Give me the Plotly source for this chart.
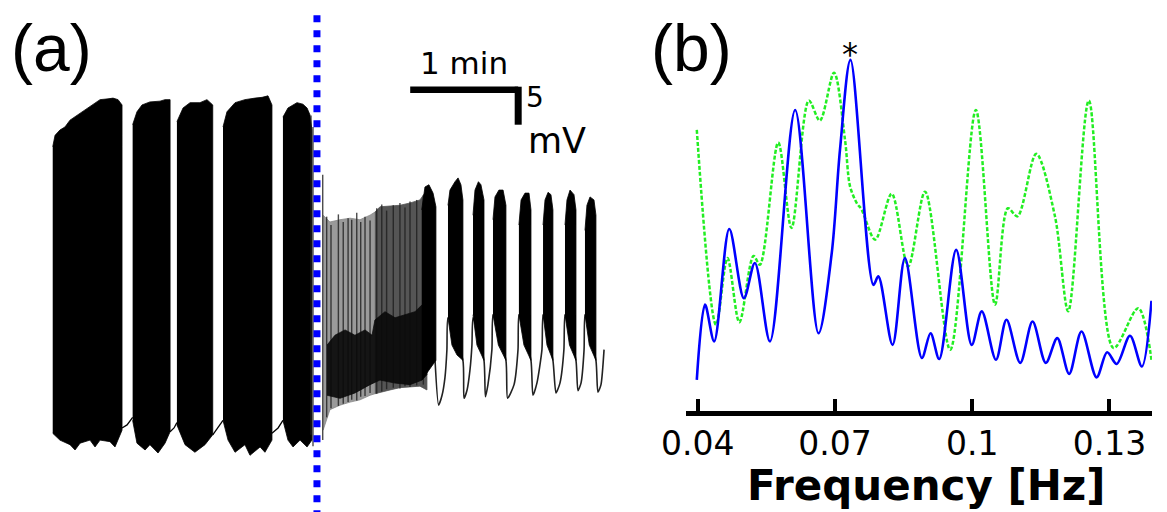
import plotly.graph_objects as go

# ---------------- Panel (a): membrane potential trace ----------------
# time in s, potential in mV (relative), envelopes
pre_bursts = [
    dict(t_top=[0.4, 1.7, 4.4, 7.2, 10.0, 14.4, 19.4, 23.9, 26.7, 31.1, 33.9, 36.7, 38.9],
         v_top=[14.9, 16.4, 17.1, 17.5, 18.4, 19.1, 20.0, 20.7, 21.1, 21.2, 21.3, 21.1, 20.4],
         t_bot=[0.4, 4.4, 10.0, 12.8, 15.6, 21.1, 23.9, 26.7, 32.2, 35.0, 38.9],
         v_bot=[-22.8, -23.7, -24.3, -25.0, -24.1, -23.7, -24.6, -23.7, -23.9, -24.6, -22.4]),
    dict(t_top=[44.8, 47.2, 50.0, 54.4, 60.0, 62.8, 65.6],
         v_top=[17.8, 19.5, 20.4, 20.8, 20.9, 21.1, 21.1],
         t_bot=[44.8, 47.2, 51.7, 54.4, 58.9, 62.8, 65.6],
         v_bot=[-21.1, -24.1, -25.0, -24.3, -25.4, -24.1, -22.6]),
    dict(t_top=[69.4, 72.8, 76.7, 82.2, 86.1, 89.3],
         v_top=[18.2, 20.0, 20.7, 20.7, 21.1, 20.4],
         t_bot=[69.4, 73.9, 79.4, 85.0, 89.3],
         v_bot=[-21.7, -24.3, -25.3, -24.3, -23.0]),
    dict(t_top=[95.0, 97.2, 101.7, 107.2, 112.8, 116.7, 120.0, 122.2],
         v_top=[17.5, 19.5, 20.7, 21.1, 21.3, 21.4, 21.6, 20.4],
         t_bot=[95.0, 97.8, 101.7, 107.2, 110.0, 115.6, 118.3, 122.2],
         v_bot=[-21.1, -23.7, -25.3, -24.3, -25.7, -24.6, -25.3, -23.7]),
    dict(t_top=[128.3, 131.1, 136.1, 139.4, 141.7, 143.3, 144.4],
         v_top=[18.8, 20.0, 20.7, 20.5, 20.0, 19.1, 17.1],
         t_bot=[128.3, 131.1, 133.9, 137.8, 141.7, 144.4],
         v_bot=[-21.1, -23.7, -24.6, -23.7, -24.6, -23.7]),
]
pre_gap_t = [[38.9, 41.7, 44.8], [65.6, 67.8, 69.4], [89.3, 92.2, 95.0], [122.2, 125.6, 128.3]]
pre_gap_v = [[-22.1, -21.7, -20.7], [-22.6, -22.1, -21.4], [-23.0, -22.1, -21.1], [-22.8, -22.1, -21.1]]

stim_time = 147.2  # s, blue dotted marker

# irregular spiking right after the marker
grey_light = dict(t_top=[150.6, 154.4, 160.0, 165.6, 171.1, 176.7, 179.4],
                  v_top=[5.9, 5.0, 5.3, 5.5, 5.3, 5.9, 6.3],
                  t_bot=[150.6, 154.4, 160.0, 165.6, 171.1, 176.7, 179.4],
                  v_bot=[-22.4, -19.7, -19.1, -18.7, -18.4, -17.8, -17.6])
grey_dark = dict(t_top=[179.4, 182.2, 187.8, 193.3, 198.9, 204.4, 208.3],
                 v_top=[6.3, 7.0, 7.1, 7.2, 7.5, 7.9, 9.2],
                 t_bot=[179.4, 182.2, 187.8, 193.3, 198.9, 204.4, 208.3],
                 v_bot=[-17.6, -17.4, -17.1, -16.8, -16.7, -16.6, -17.1])
dark_mass = dict(t_top=[152.8, 157.2, 162.8, 168.3, 173.9, 177.8, 179.4, 185.0, 190.6, 196.1, 201.7, 205.6, 208.3],
                 v_top=[-11.2, -9.9, -9.2, -9.9, -9.2, -9.9, -7.9, -6.8, -7.6, -7.2, -6.8, -5.9, -5.3],
                 t_bot=[152.8, 160.0, 168.3, 176.7, 182.2, 190.6, 198.9, 205.6, 208.3],
                 v_bot=[-17.8, -18.2, -17.5, -16.4, -15.8, -16.2, -16.4, -15.8, -15.1])
spike_t = [143.9, 145.0, 150.4, 152.6, 155.0, 159.1, 161.8, 164.5, 166.5, 169.3, 171.5,
           173.9, 176.7, 180.4, 183.2, 185.9, 189.6, 193.3, 196.1, 198.9, 202.6, 206.3]
spike_top = [19.0, 17.5, 11.2, 5.7, 4.6, 6.0, 5.0, 5.5, 5.3, 6.2, 5.0,
             5.7, 5.2, 6.8, 7.3, 6.5, 7.2, 7.5, 6.9, 7.7, 7.9, 8.5]
spike_bot = [-23.0, -24.5, -23.7, -20.7, -19.5, -19.2, -18.9, -18.7, -18.4, -18.5, -18.0,
             -17.9, -17.5, -17.6, -17.3, -17.0, -16.8, -16.9, -16.6, -16.7, -16.5, -16.4]

post_bursts = [
    dict(t_top=[205.4, 207.2, 209.4, 211.7, 213.3], v_top=[6.6, 9.6, 9.9, 8.8, 7.0],
         t_bot=[205.4, 209.4, 213.3], v_bot=[-15.8, -14.5, -13.2]),
    dict(t_top=[220.0, 221.1, 223.9, 225.6, 227.2, 228.3], v_top=[7.2, 9.2, 10.3, 10.8, 9.9, 7.9],
         t_bot=[220.0, 222.2, 225.0, 228.3], v_bot=[-7.6, -11.2, -12.5, -13.2]),
    dict(t_top=[233.9, 235.0, 236.9, 238.3, 240.0], v_top=[5.9, 9.2, 10.3, 9.9, 7.9],
         t_bot=[233.9, 236.1, 240.0], v_bot=[-7.2, -11.2, -13.2]),
    dict(t_top=[245.0, 246.1, 248.3, 250.6, 252.2], v_top=[5.3, 8.3, 9.2, 9.2, 7.2],
         t_bot=[245.0, 248.0, 252.2], v_bot=[-7.2, -11.2, -13.2]),
    dict(t_top=[259.4, 260.6, 262.8, 265.0, 266.1], v_top=[4.6, 7.9, 8.8, 8.8, 6.6],
         t_bot=[259.4, 262.2, 266.1], v_bot=[-7.2, -11.2, -13.2]),
    dict(t_top=[272.8, 273.9, 275.6, 277.2, 278.3], v_top=[4.6, 7.9, 8.9, 8.6, 6.6],
         t_bot=[272.8, 275.0, 278.3], v_bot=[-7.2, -11.2, -13.2]),
    dict(t_top=[285.0, 286.1, 287.8, 290.0, 291.1], v_top=[4.6, 7.9, 9.2, 8.6, 6.6],
         t_bot=[285.0, 287.5, 291.1], v_bot=[-7.2, -11.2, -13.2]),
    dict(t_top=[296.1, 297.2, 298.9, 301.1, 302.2], v_top=[3.9, 7.2, 8.3, 7.9, 5.9],
         t_bot=[296.1, 298.5, 302.2], v_bot=[-7.2, -11.2, -13.2]),
]
slow_t = [212.8, 214.8, 216.7, 218.3, 219.4, 220.0,
          228.3, 228.9, 230.6, 232.2, 233.3, 233.9,
          240.0, 240.8, 242.2, 244.4, 245.0,
          252.2, 253.1, 256.7, 258.9, 259.4,
          266.1, 267.2, 269.4, 272.2, 272.8,
          278.3, 280.0, 282.2, 284.4, 285.0,
          291.1, 292.2, 293.9, 295.6, 296.1,
          302.2, 303.3, 305.0, 306.7]
slow_v = [-13.2, -19.1, -17.8, -15.5, -11.8, -7.6,
          -13.2, -18.2, -17.1, -14.5, -11.2, -7.6,
          -13.2, -18.0, -16.4, -11.8, -7.2,
          -13.2, -18.2, -16.4, -11.8, -7.2,
          -13.2, -17.8, -16.2, -11.8, -7.2,
          -13.2, -17.5, -16.2, -11.8, -7.2,
          -13.2, -17.2, -16.2, -11.8, -7.2,
          -13.2, -17.4, -16.4, -11.8]

# scale bar: 1 min, 5 mV
scale_t0, scale_len_s = 199.0, 60.0
scale_v0, scale_len_mv = 22.8, 5.0

# ---------------- Panel (b): spectra ----------------
freq_blue = [0.0398, 0.0416, 0.0436, 0.0469, 0.0501, 0.0525, 0.0558, 0.0613, 0.0664, 0.0693,
             0.0711, 0.0734, 0.0784, 0.0795, 0.0826, 0.0853, 0.0890, 0.0909, 0.0928, 0.0965,
             0.0999, 0.1021, 0.1052, 0.1075, 0.1105, 0.1132, 0.1161, 0.1186, 0.1212, 0.1239,
             0.1272, 0.1295, 0.1316, 0.1345, 0.1371, 0.1392]
power_blue = [0.094, 0.307, 0.203, 0.521, 0.325, 0.425, 0.203, 0.858, 0.226, 0.453,
              0.745, 1.0, 0.363, 0.387, 0.193, 0.439, 0.156, 0.226, 0.153, 0.462,
              0.193, 0.288, 0.151, 0.264, 0.142, 0.259, 0.142, 0.212, 0.111, 0.231,
              0.101, 0.172, 0.139, 0.219, 0.132, 0.318]
freq_green = [0.0398, 0.0440, 0.0465, 0.0491, 0.0522, 0.0536, 0.0576, 0.0605, 0.0643, 0.0667,
              0.0698, 0.0722, 0.0733, 0.0748, 0.0758, 0.0788, 0.0824, 0.0860, 0.0897, 0.0952,
              0.1008, 0.1050, 0.1078, 0.1099, 0.1140, 0.1181, 0.1210, 0.1255, 0.1309, 0.1363,
              0.1392]
power_green = [0.802, 0.250, 0.439, 0.257, 0.445, 0.420, 0.766, 0.524, 0.885, 0.828,
               0.964, 0.774, 0.642, 0.594, 0.577, 0.491, 0.621, 0.415, 0.627, 0.179,
               0.858, 0.307, 0.580, 0.557, 0.734, 0.557, 0.288, 0.885, 0.184, 0.297,
               0.151]
freq_ticks = [0.04, 0.07, 0.1, 0.13]
freq_tick_text = ["0.04", "0.07", "0.1", "0.13"]
peak_freq = 0.0734

fig = go.Figure()


def poly(d, fill, line_color, lw=0.8):
    x = d["t_top"] + d["t_bot"][::-1]
    y = d["v_top"] + d["v_bot"][::-1]
    return go.Scatter(x=x, y=y, mode="lines", fill="toself", fillcolor=fill,
                      line=dict(color=line_color, width=lw), hoverinfo="skip",
                      showlegend=False, xaxis="x", yaxis="y")


fig.add_trace(go.Scatter(x=slow_t, y=slow_v, mode="lines",
                         line=dict(color="#222222", width=1.6, shape="spline", smoothing=0.6),
                         hoverinfo="skip", showlegend=False, xaxis="x", yaxis="y"))
gx, gy = [], []
for tt, vv in zip(pre_gap_t, pre_gap_v):
    gx += tt + [None]
    gy += vv + [None]
fig.add_trace(go.Scatter(x=gx, y=gy, mode="lines", line=dict(color="black", width=1.3),
                         hoverinfo="skip", showlegend=False, xaxis="x", yaxis="y"))
for b in pre_bursts:
    fig.add_trace(poly(b, "black", "black"))
fig.add_trace(poly(grey_light, "#9a9a9a", "#888888", 0.8))
fig.add_trace(poly(grey_dark, "#555555", "#555555", 0.8))
sx, sy = [], []
for t, a, b in zip(spike_t, spike_top, spike_bot):
    sx += [t, t, None]
    sy += [b, a, None]
fig.add_trace(go.Scatter(x=sx, y=sy, mode="lines", line=dict(color="rgba(30,30,30,0.8)", width=1.4),
                         hoverinfo="skip", showlegend=False, xaxis="x", yaxis="y"))
fig.add_trace(poly(dark_mass, "rgba(10,10,10,0.92)", "rgba(10,10,10,0.92)", 0.8))
for b in post_bursts:
    fig.add_trace(poly(b, "black", "black"))

fig.add_trace(go.Scatter(x=freq_green, y=power_green, mode="lines",
                         line=dict(color="#22ee22", width=2.5, dash="4px,2px", shape="spline", smoothing=0.9),
                         hoverinfo="skip", showlegend=False, xaxis="x2", yaxis="y2"))
fig.add_trace(go.Scatter(x=freq_blue, y=power_blue, mode="lines",
                         line=dict(color="#0000ff", width=2.6, shape="spline", smoothing=0.9),
                         hoverinfo="skip", showlegend=False, xaxis="x2", yaxis="y2"))

fig.add_shape(type="line", xref="x", yref="y", x0=stim_time, x1=stim_time, y0=32.2, y1=-34,
              line=dict(color="#0000ff", width=7, dash="7px,8px"))
fig.add_shape(type="line", xref="x", yref="y", x0=scale_t0, x1=scale_t0 + scale_len_s,
              y0=scale_v0 - 0.4, y1=scale_v0 - 0.4, line=dict(color="black", width=6.5))
fig.add_shape(type="line", xref="x", yref="y", x0=scale_t0 + scale_len_s, x1=scale_t0 + scale_len_s,
              y0=scale_v0, y1=scale_v0 - scale_len_mv, line=dict(color="black", width=7))

fig.update_layout(
    template="none",
    width=1167, height=512, margin=dict(l=0, r=0, t=0, b=0, pad=0, autoexpand=False),
    paper_bgcolor="white", plot_bgcolor="white", showlegend=False,
    xaxis=dict(domain=[0, 620 / 1167], range=[-28.89, 315.56], visible=False, fixedrange=True,
               automargin=False, showgrid=False, zeroline=False),
    yaxis=dict(domain=[0, 1], range=[-33.16, 34.21], visible=False, fixedrange=True,
               automargin=False, showgrid=False, zeroline=False),
    xaxis2=dict(domain=[0.5876, 0.9871], range=[0.03738, 0.1393], anchor="y2",
                showline=True, linecolor="black", linewidth=5, ticks="inside", ticklen=12,
                tickwidth=4, tickcolor="black", tickvals=freq_ticks, ticktext=freq_tick_text,
                tickfont=dict(family="DejaVu Sans", size=33, color="black"),
                showgrid=False, zeroline=False, fixedrange=True, automargin=False),
    yaxis2=dict(domain=[0.1982, 0.9609], range=[0.0071, 1.113], visible=False, fixedrange=True,
                automargin=False, showgrid=False, zeroline=False),
)

ann = [
    dict(text="(a)", x=51 / 1167, y=1 - 48 / 512, font=dict(family="Liberation Sans", size=66)),
    dict(text="(b)", x=691 / 1167, y=1 - 48 / 512, font=dict(family="Liberation Sans", size=66)),
    dict(text="1 min", x=463.5 / 1167, y=1 - 63 / 512, font=dict(family="DejaVu Sans", size=31)),
    dict(text="5", x=535 / 1167, y=1 - 97 / 512, font=dict(family="DejaVu Sans", size=28)),
    dict(text="mV", x=557 / 1167, y=1 - 141 / 512, font=dict(family="DejaVu Sans", size=35)),
    dict(text="<b>Frequency [Hz]</b>", x=925.5 / 1167, y=1 - 485.5 / 512,
         font=dict(family="DejaVu Sans", size=42)),
]
for a in ann:
    fig.add_annotation(xref="paper", yref="paper", x=a["x"], y=a["y"], text=a["text"],
                       showarrow=False, xanchor="center", yanchor="middle",
                       font=dict(color="black", **a["font"]))
fig.add_annotation(xref="x2", yref="paper", x=peak_freq, y=1 - 54 / 512, text="*", showarrow=False,
                   xanchor="center", yanchor="middle", font=dict(family="DejaVu Sans", size=32, color="black"))

fig.write_html("out.html", config={"displayModeBar": False},
               post_script="document.body.style.margin='0';document.body.style.padding='0';document.body.style.overflow='hidden';")
